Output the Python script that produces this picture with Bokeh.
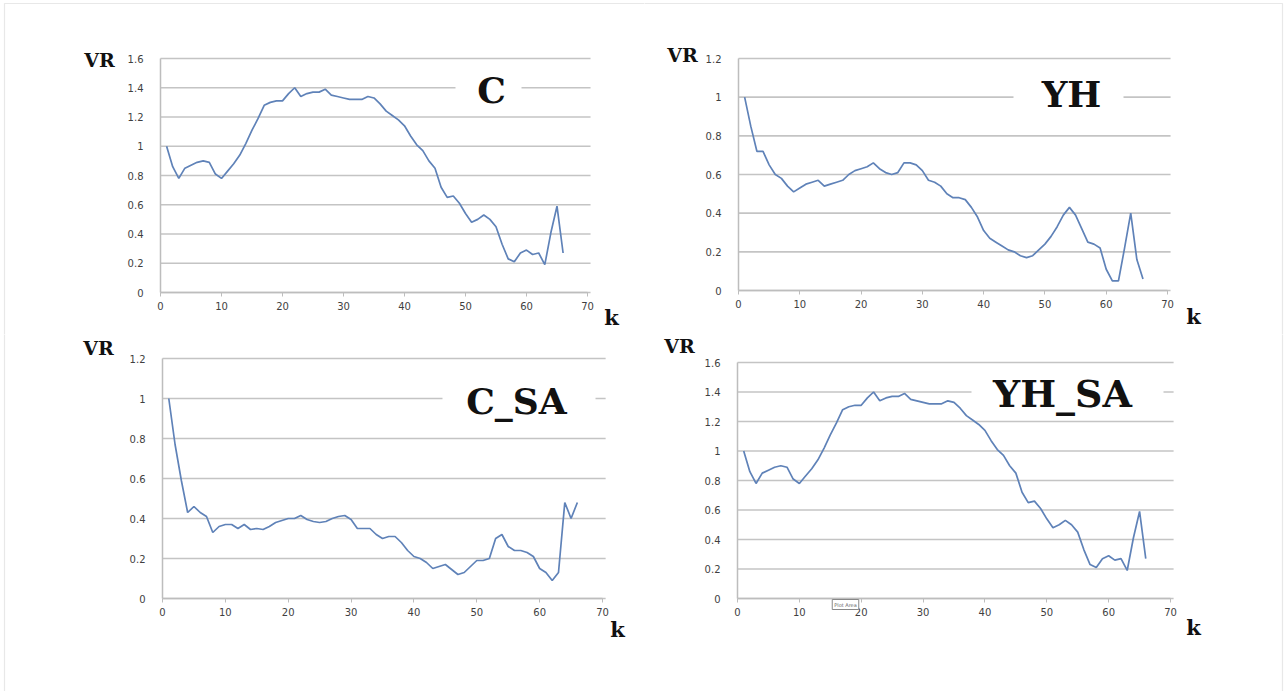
from bokeh.plotting import figure
from bokeh.models import Range1d, Label, FixedTicker, LinearAxis, BoxAnnotation
from bokeh.layouts import row, column
from bokeh.embed import file_html
from bokeh.resources import INLINE

k = list(range(1, 67))

vr_c = [1.00, 0.86, 0.78, 0.85, 0.87, 0.89, 0.90, 0.89, 0.81, 0.78,
        0.83, 0.88, 0.94, 1.02, 1.11, 1.19, 1.28, 1.30, 1.31, 1.31,
        1.36, 1.40, 1.34, 1.36, 1.37, 1.37, 1.39, 1.35, 1.34, 1.33,
        1.32, 1.32, 1.32, 1.34, 1.33, 1.29, 1.24, 1.21, 1.18, 1.14,
        1.07, 1.01, 0.97, 0.90, 0.85, 0.72, 0.65, 0.66, 0.61, 0.54,
        0.48, 0.50, 0.53, 0.50, 0.45, 0.33, 0.23, 0.21, 0.27, 0.29,
        0.26, 0.27, 0.19, 0.41, 0.59, 0.27]

vr_yh = [1.00, 0.85, 0.72, 0.72, 0.65, 0.60, 0.58, 0.54, 0.51, 0.53,
         0.55, 0.56, 0.57, 0.54, 0.55, 0.56, 0.57, 0.60, 0.62, 0.63,
         0.64, 0.66, 0.63, 0.61, 0.60, 0.61, 0.66, 0.66, 0.65, 0.62,
         0.57, 0.56, 0.54, 0.50, 0.48, 0.48, 0.47, 0.43, 0.38, 0.31,
         0.27, 0.25, 0.23, 0.21, 0.20, 0.18, 0.17, 0.18, 0.21, 0.24,
         0.28, 0.33, 0.39, 0.43, 0.39, 0.32, 0.25, 0.24, 0.22, 0.11,
         0.05, 0.05, 0.22, 0.40, 0.16, 0.06]

vr_c_sa = [1.00, 0.77, 0.59, 0.43, 0.46, 0.43, 0.41, 0.33, 0.36, 0.37,
           0.37, 0.35, 0.37, 0.345, 0.35, 0.345, 0.36, 0.38, 0.39, 0.40,
           0.40, 0.415, 0.395, 0.385, 0.38, 0.385, 0.40, 0.41, 0.415, 0.395,
           0.35, 0.35, 0.35, 0.32, 0.30, 0.31, 0.31, 0.28, 0.24, 0.21,
           0.20, 0.18, 0.15, 0.16, 0.17, 0.145, 0.12, 0.13, 0.16, 0.19,
           0.19, 0.20, 0.30, 0.32, 0.26, 0.24, 0.24, 0.23, 0.21, 0.15,
           0.13, 0.09, 0.13, 0.48, 0.40, 0.48]

vr_yh_sa = [1.00, 0.86, 0.78, 0.85, 0.87, 0.89, 0.90, 0.89, 0.81, 0.78,
            0.83, 0.88, 0.94, 1.02, 1.11, 1.19, 1.28, 1.30, 1.31, 1.31,
            1.36, 1.40, 1.34, 1.36, 1.37, 1.37, 1.39, 1.35, 1.34, 1.33,
            1.32, 1.32, 1.32, 1.34, 1.33, 1.29, 1.24, 1.21, 1.18, 1.14,
            1.07, 1.01, 0.97, 0.90, 0.85, 0.72, 0.65, 0.66, 0.61, 0.54,
            0.48, 0.50, 0.53, 0.50, 0.45, 0.33, 0.23, 0.21, 0.27, 0.29,
            0.26, 0.27, 0.19, 0.41, 0.59, 0.27]

x_ticks = [0, 10, 20, 30, 40, 50, 60, 70]
y_ticks_16 = [0, 0.2, 0.4, 0.6, 0.8, 1.0, 1.2, 1.4, 1.6]
y_ticks_12 = [0, 0.2, 0.4, 0.6, 0.8, 1.0, 1.2]

LINE = "#5f82b8"
GRID = "#c4c4c4"
AXIS = "#bdbdbd"
TICK_TXT = "#3f3f3f"
SERIF = "DejaVu Serif"
XMAX = 70
GRID_END = 70.5
FRAME = (4, 1282, 3, 900)   # page pixels of the outer picture border: left, right, top, bottom


def panel(ys, ymax, yticks, ox, oy, w, h, x0, x70, y0, ytop,
          title, title_px, title_size, gap_px, vr_px, k_px):
    # ox, oy: page position of the figure; x0/x70/y0/ytop: page pixels of axis ends
    sx = (x70 - x0) / XMAX
    sy = (y0 - ytop) / ymax
    xs = (ox - x0) / sx
    ye = (y0 - oy) / sy

    def dx(px):
        return (px - x0) / sx

    def dy(py):
        return (y0 - py) / sy

    p = figure(width=w, height=h, output_backend="svg", toolbar_location=None,
               x_range=Range1d(xs, xs + w / sx), y_range=Range1d(ye - h / sy, ye),
               x_axis_location=None, y_axis_location=None, title=None,
               min_border_left=0, min_border_right=0, min_border_top=0, min_border_bottom=0)
    p.outline_line_color = None
    p.background_fill_color = "white"
    p.border_fill_color = "white"
    for g in list(p.grid):
        g.visible = False

    p.add_layout(BoxAnnotation(left=dx(FRAME[0]), right=dx(FRAME[1]),
                               top=dy(FRAME[2]), bottom=dy(FRAME[3]),
                               fill_alpha=0, line_color="#b4b4b4", line_width=1.2,
                               level="underlay"))

    # horizontal gridlines over the plot area only
    p.segment(x0=[0] * len(yticks), x1=[GRID_END] * len(yticks), y0=yticks, y1=yticks,
              line_color=GRID, line_width=1.6, level="underlay")

    xaxis = LinearAxis(fixed_location=0, bounds=(0, XMAX), ticker=FixedTicker(ticks=x_ticks))
    yaxis = LinearAxis(fixed_location=0, bounds=(0, ymax), ticker=FixedTicker(ticks=yticks))
    yaxis.major_label_overrides = {1.0: "1", 0: "0"}
    for ax in (xaxis, yaxis):
        ax.axis_line_color = AXIS
        ax.axis_line_width = 1.5
        ax.major_tick_line_color = AXIS
        ax.major_tick_out = 4
        ax.major_tick_in = 0
        ax.minor_tick_line_color = None
        ax.major_label_text_font = "DejaVu Sans"
        ax.major_label_text_font_size = "10px"
        ax.major_label_text_color = TICK_TXT
    yaxis.major_tick_line_color = None
    yaxis.major_label_standoff = 13
    xaxis.major_label_standoff = 5
    p.add_layout(xaxis, "below")
    p.add_layout(yaxis, "left")

    p.line(k, ys, line_color=LINE, line_width=1.7)

    # white gap in the gridline behind the panel name
    gl, gr, gy = gap_px
    p.add_layout(BoxAnnotation(left=dx(gl), right=dx(gr), bottom=dy(gy + 7), top=dy(gy - 7),
                               fill_color="white", fill_alpha=1.0, line_color=None))
    p.add_layout(Label(x=dx(title_px[0]), y=dy(title_px[1]), text=title, text_font=SERIF,
                       text_font_style="bold", text_font_size=title_size,
                       text_color="#111111", text_align="center", text_baseline="middle"))
    p.add_layout(Label(x=dx(vr_px[0]), y=dy(vr_px[1]), text="VR", text_font=SERIF,
                       text_font_style="bold", text_font_size="19px", text_color="#111111",
                       text_align="center", text_baseline="middle"))
    p.add_layout(Label(x=dx(k_px[0]), y=dy(k_px[1]), text="k", text_font=SERIF,
                       text_font_style="bold", text_font_size="21px", text_color="#111111",
                       text_align="center", text_baseline="middle"))
    return p, dx, dy


p1, _, _ = panel(vr_c, 1.6, y_ticks_16, 0, 0, 644, 334, 160, 587, 292, 58,
                 "C", (491, 89), "36px", (455, 521, 88), (99, 59), (611, 317))
p2, _, _ = panel(vr_yh, 1.2, y_ticks_12, 644, 0, 642, 334, 738, 1167, 290, 58,
                 "YH", (1071, 93), "36px", (1013, 1123, 97), (682, 54), (1193, 316))
p3, _, _ = panel(vr_c_sa, 1.2, y_ticks_12, 0, 334, 644, 357, 162, 602, 598, 358,
                 "C_SA", (516, 400), "36px", (442, 595, 398), (98, 347), (617, 629))
p4, dx4, dy4 = panel(vr_yh_sa, 1.6, y_ticks_16, 644, 334, 642, 357, 737, 1170, 598, 362,
                     "YH_SA", (1062, 393), "38px", (971, 1163, 391), (679, 345), (1193, 627))
p4.add_layout(Label(x=dx4(845), y=dy4(604), text="Plot Area", text_font="DejaVu Sans",
                    text_font_size="5px", text_color="#666666", text_align="center",
                    text_baseline="middle", background_fill_color="white",
                    border_line_color="#888888", padding=2))

layout = column(row(p1, p2), row(p3, p4))

open("out.html", "w").write(file_html(layout, INLINE))
